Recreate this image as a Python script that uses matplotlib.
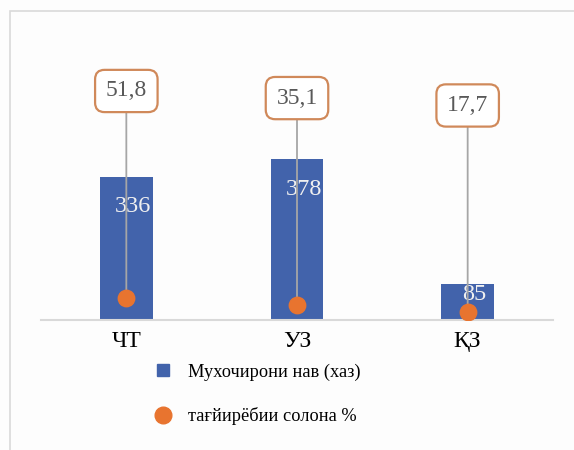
import matplotlib
matplotlib.use("Agg")
import matplotlib.pyplot as plt
from matplotlib.patches import Rectangle
from matplotlib.lines import Line2D

# data
categories = ["ЧТ", "УЗ", "ҚЗ"]
migrants = [336, 378, 85]
growth = [51.8, 35.1, 17.7]
growth_labels = ["51,8", "35,1", "17,7"]
legend_labels = ["Мухочирони нав (хаз)", "тағйирёбии солона %"]

blue = "#4263AB"
orange = "#E8742F"

plt.rcParams["font.family"] = ["Liberation Serif", "DejaVu Serif"]

fig = plt.figure(figsize=(5.74, 4.5), dpi=100, facecolor="#FDFDFD")

# light frame round the chart
fig.patches.append(Rectangle((10 / 574, -0.1), 1.2, 1 - 11 / 450 + 0.1,
                             transform=fig.transFigure, fill=False,
                             edgecolor="#DADADA", linewidth=1.2))

ax = fig.add_axes([41 / 574, 130 / 450, 512 / 574, 255 / 450])
ax.set_facecolor("none")
x = list(range(len(categories)))
ax.bar(x, migrants, width=0.31, color=blue, zorder=2)
ax.set_xlim(-0.5, 2.5)
ax.set_ylim(0, 600)
for s in ["top", "left", "right"]:
    ax.spines[s].set_visible(False)
ax.spines["bottom"].set_color("#D9D9D9")
ax.spines["bottom"].set_linewidth(1.5)
ax.set_yticks([])
ax.set_xticks(x)
ax.set_xticklabels(categories, fontsize=17, color="black")
ax.tick_params(axis="x", length=0, pad=8)

for xi, v in zip(x, migrants):
    ax.text(xi + 0.04, max(v - 70, v * 0.7), str(v), ha="center", va="center",
            fontsize=17.5, color="#F0F0F0", zorder=3)

ax2 = ax.twinx()
ax2.set_ylim(0, 600)
ax2.axis("off")
ax2.scatter(x, growth, s=140, color=orange, zorder=4)
for xi, g, lab in zip(x, growth, growth_labels):
    ax2.annotate(lab, xy=(xi, g), xytext=(0, 207), textcoords="offset pixels",
                 ha="center", va="center", fontsize=17, color="#595959",
                 bbox=dict(boxstyle="round,pad=0.45,rounding_size=0.4", fc="white",
                           ec="#D0895A", lw=1.6),
                 arrowprops=dict(arrowstyle="-", color="#A6A6A6", lw=1.3,
                                 shrinkA=0, shrinkB=0),
                 zorder=3)

handles = [Line2D([], [], marker="s", linestyle="none", color=blue, markersize=8),
           Line2D([], [], marker="o", linestyle="none", color=orange, markersize=12)]
fig.legend(handles, legend_labels, loc="upper left", bbox_to_anchor=(128 / 574, 1 - 347 / 450),
           frameon=False, fontsize=13.2, labelspacing=1.45, handletextpad=0.4)

fig.savefig("out.png", dpi=100, facecolor=fig.get_facecolor())
